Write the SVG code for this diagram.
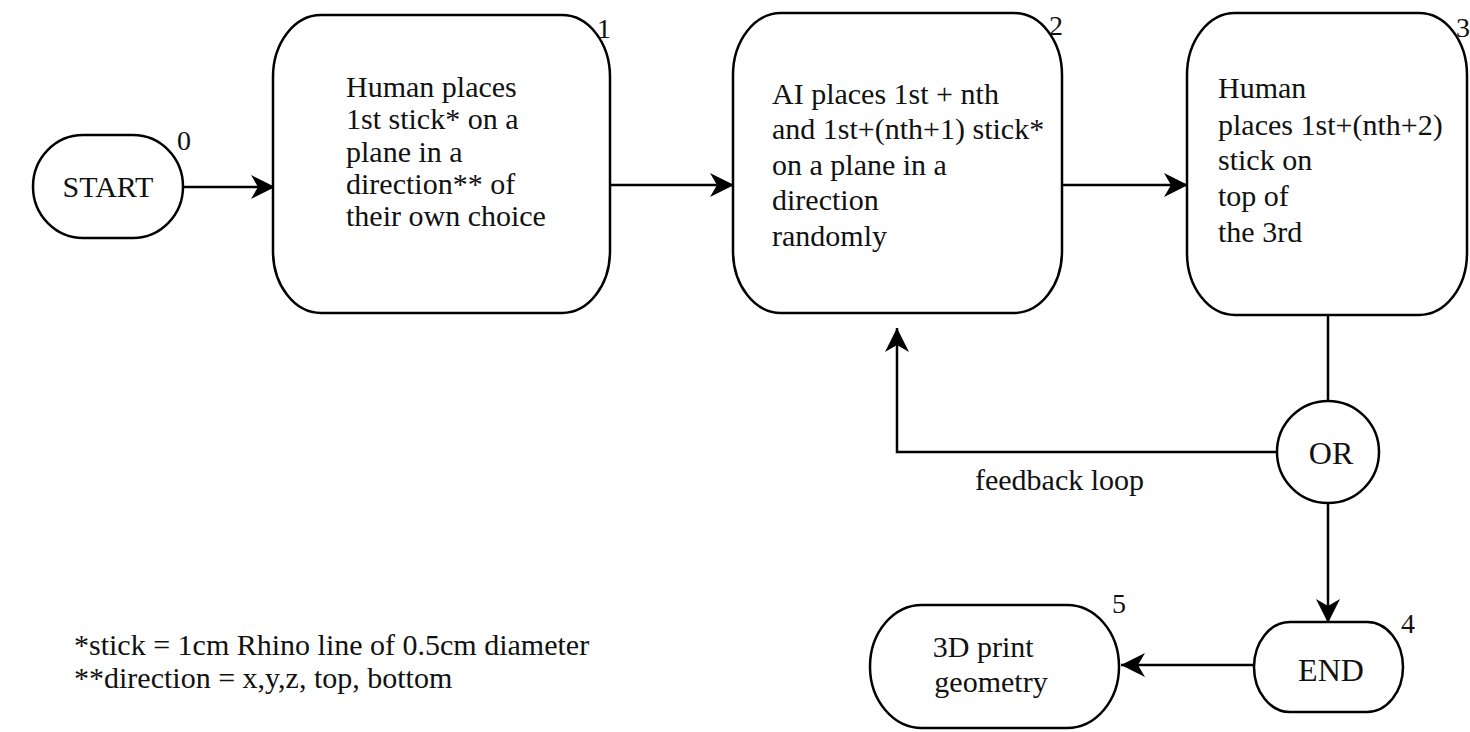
<svg xmlns="http://www.w3.org/2000/svg" width="1470" height="732" viewBox="0 0 1470 732">
  <style>
    .shape { fill: #ffffff; stroke: #000000; stroke-width: 2.5; }
    .edge { fill: none; stroke: #000000; stroke-width: 2.5; }
    text { font-family: "Liberation Serif", "Times New Roman", serif; fill: #111111; }
    .big { font-size: 30px; }
    .tag { font-size: 32px; }
    .num { font-size: 28px; }
    .note { font-size: 30px; }
    .mid { text-anchor: middle; }
  </style>
  <defs>
    <marker id="arrow" markerUnits="userSpaceOnUse" markerWidth="26" markerHeight="24" refX="24" refY="12" orient="auto">
      <path d="M0,0 L24,12 L0,24 L7,12 z" fill="#000000"/>
    </marker>
  </defs>
  <rect width="1470" height="732" fill="#ffffff"/>

  <!-- connectors -->
  <g id="connectors">
    <line class="edge" x1="183" y1="187" x2="275" y2="187" marker-end="url(#arrow)"/>
    <line class="edge" x1="610" y1="185" x2="734" y2="185" marker-end="url(#arrow)"/>
    <line class="edge" x1="1062" y1="185" x2="1188" y2="185" marker-end="url(#arrow)"/>
    <line class="edge" x1="1328" y1="315" x2="1328" y2="401"/>
    <polyline class="edge" points="1277,452 897,452 897,328" marker-end="url(#arrow)"/>
    <line class="edge" x1="1328" y1="503" x2="1328" y2="623" marker-end="url(#arrow)"/>
    <line class="edge" x1="1254" y1="665" x2="1121" y2="665" marker-end="url(#arrow)"/>
    <text class="big" x="975" y="490">feedback loop</text>
  </g>

  <!-- node 0: start -->
  <g id="node-start">
    <rect class="shape" x="33" y="135" width="150" height="103" rx="50" ry="51.5"/>
    <text class="big mid" x="108" y="197">START</text>
    <text class="num" x="177" y="150">0</text>
  </g>

  <!-- node 1: human places first stick -->
  <g id="node-1">
    <rect class="shape" x="273" y="15" width="337" height="298" rx="48" ry="62"/>
    <text class="big">
      <tspan x="346" y="97">Human places</tspan>
      <tspan x="346" y="129">1st stick* on a</tspan>
      <tspan x="346" y="162">plane in a</tspan>
      <tspan x="346" y="194">direction** of</tspan>
      <tspan x="346" y="226">their own choice</tspan>
    </text>
    <text class="num" x="597" y="38">1</text>
  </g>

  <!-- node 2: AI places sticks -->
  <g id="node-2">
    <rect class="shape" x="733" y="13" width="329" height="300" rx="48" ry="62"/>
    <text class="big">
      <tspan x="772" y="104">AI places 1st + nth</tspan>
      <tspan x="772" y="139">and 1st+(nth+1) stick*</tspan>
      <tspan x="772" y="175">on a plane in a</tspan>
      <tspan x="772" y="210">direction</tspan>
      <tspan x="772" y="246">randomly</tspan>
    </text>
    <text class="num" x="1049" y="35">2</text>
  </g>

  <!-- node 3: human places next stick on top -->
  <g id="node-3">
    <rect class="shape" x="1187" y="13" width="280" height="302" rx="48" ry="62"/>
    <text class="big">
      <tspan x="1218" y="98">Human</tspan>
      <tspan x="1218" y="135">places 1st+(nth+2)</tspan>
      <tspan x="1218" y="170">stick on</tspan>
      <tspan x="1218" y="206">top of</tspan>
      <tspan x="1218" y="242">the 3rd</tspan>
    </text>
    <text class="num" x="1456" y="37">3</text>
  </g>

  <!-- decision: OR -->
  <g id="node-or">
    <circle class="shape" cx="1328" cy="452" r="51"/>
    <text class="tag mid" x="1331" y="464">OR</text>
  </g>

  <!-- node 4: end -->
  <g id="node-end">
    <rect class="shape" x="1254" y="622" width="149" height="90" rx="36" ry="45"/>
    <text class="tag mid" x="1331" y="681">END</text>
    <text class="num" x="1401" y="633">4</text>
  </g>

  <!-- node 5: 3D print geometry -->
  <g id="node-print">
    <rect class="shape" x="870" y="605" width="249" height="123" rx="52" ry="61.5"/>
    <text class="big mid">
      <tspan x="987" y="657">3D print</tspan>
      <tspan x="991" y="692">geometry</tspan>
    </text>
    <text class="num" x="1112" y="613">5</text>
  </g>

  <!-- footnotes -->
  <g id="legend">
    <text class="note" x="74" y="655">*stick = 1cm Rhino line of 0.5cm diameter</text>
    <text class="note" x="74" y="688">**direction = x,y,z, top, bottom</text>
  </g>
</svg>
